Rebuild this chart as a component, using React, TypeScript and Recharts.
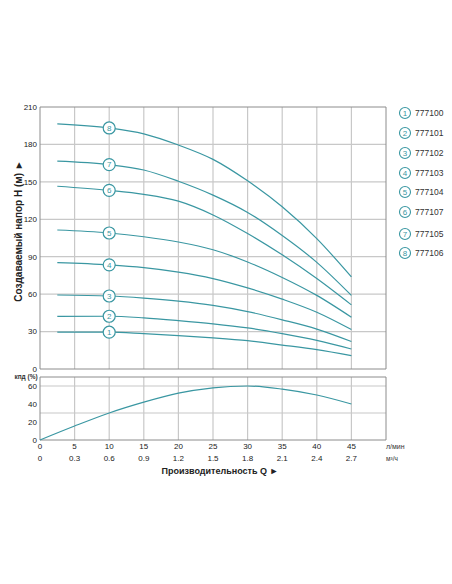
import { LineChart, Line, XAxis, YAxis, CartesianGrid, ReferenceArea } from 'recharts'

// Q, l/min
const FLOW_LPM = [2.5, 10, 15, 20, 25, 30, 35, 40, 45]
const FLOW_TICKS = [0, 5, 10, 15, 20, 25, 30, 35, 40, 45]
const M3H_TICKS = ['0', '0.3', '0.6', '0.9', '1.2', '1.5', '1.8', '2.1', '2.4', '2.7']
const HEAD_TICKS = [0, 30, 60, 90, 120, 150, 180, 210]
const EFF_TICKS = [0, 20, 40, 60]

// head H (m) per model
const HEAD_1 = [29.5, 29.5, 28.3, 26.8, 25, 22.7, 19.2, 15.5, 10.7]
const HEAD_2 = [42.2, 42.3, 41, 38.8, 36.2, 32.9, 28.3, 22.9, 16]
const HEAD_3 = [59.3, 58.5, 56.8, 54.4, 51, 46, 39.4, 32, 22]
const HEAD_4 = [85.3, 83.5, 81.3, 77.7, 72.5, 65, 56, 45.5, 31.6]
const HEAD_5 = [111.4, 109, 106, 101.8, 95.6, 85.8, 73.4, 59, 41.5]
const HEAD_6 = [146.5, 143.2, 140, 134.5, 123.5, 108.6, 91.5, 72.5, 51.4]
const HEAD_7 = [166.6, 163.8, 159.5, 150.5, 139.4, 125.5, 107, 85.5, 59]
const HEAD_8 = [196.5, 193.2, 188.5, 179.5, 168, 150.8, 130, 104.5, 73.8]

const MODELS = ['777100', '777101', '777102', '777103', '777104', '777107', '777105', '777106']
const HEADS = [HEAD_1, HEAD_2, HEAD_3, HEAD_4, HEAD_5, HEAD_6, HEAD_7, HEAD_8]

// efficiency, %
const EFF_FLOW = [0, 5, 10, 15, 20, 25, 30, 35, 40, 45]
const EFF = [0, 15.5, 30, 42, 52, 58, 60, 56.5, 50, 40]

const TEAL = '#3a97a2'
const GRID = '#c8c8c8'
const FRAME = '#8c8c8c'
const FONT = '"Liberation Sans", Arial, sans-serif'

const tick = { fontSize: 8, fill: '#222' }

function markerDot(num: number) {
  return (props: any) => {
    const { cx, cy, index } = props
    if (index !== 1) return <g key={`d-${num}-${index}`} />
    return (
      <g key={`d-${num}-${index}`}>
        <circle cx={cx} cy={cy} r={6} fill="#fff" stroke={TEAL} strokeWidth={1.2} />
        <text x={cx} y={cy + 0.3} textAnchor="middle" dominantBaseline="central" fontSize={8} fill={TEAL}>
          {num}
        </text>
      </g>
    )
  }
}

function HeadChart() {
  return (
    <LineChart width={452} height={380} margin={{ top: 107, right: 66, bottom: 11, left: 0 }}>
      <CartesianGrid
        stroke={GRID}
        strokeWidth={1.2}
        verticalValues={[5, 10, 15, 20, 25, 30, 35, 40, 45]}
        horizontalValues={[30, 60, 90, 120, 150, 180]}
      />
      <XAxis type="number" dataKey="q" domain={[0, 50]} ticks={FLOW_TICKS} hide />
      <YAxis
        type="number"
        domain={[0, 210]}
        ticks={HEAD_TICKS}
        width={40}
        axisLine={false}
        tickLine={false}
        tickSize={0}
        tickMargin={3}
        tick={tick}
        label={{
          content: () => (
            <text
              x={18}
              y={231}
              transform="rotate(-90 18 231)"
              textAnchor="middle"
              dominantBaseline="central"
              fontSize={10}
              fontWeight="bold"
              fill="#222"
            >
              Создаваемый напор H (м) ►
            </text>
          ),
        }}
      />
      <ReferenceArea x1={0} x2={50} y1={0} y2={210} fill="none" stroke={FRAME} strokeWidth={1} />
      {HEADS.map((h, i) => (
        <Line
          key={MODELS[i]}
          data={FLOW_LPM.map((q, j) => ({ q, h: h[j] }))}
          dataKey="h"
          type="monotone"
          stroke={TEAL}
          strokeWidth={1.2}
          dot={markerDot(i + 1)}
          activeDot={false}
          isAnimationActive={false}
        />
      ))}
    </LineChart>
  )
}

function EffChart() {
  const data = EFF_FLOW.map((q, i) => ({ q, e: EFF[i] }))
  return (
    <LineChart width={452} height={110} data={data} margin={{ top: 7, right: 66, bottom: 1, left: 0 }}>
      <CartesianGrid
        stroke={GRID}
        strokeWidth={1.2}
        verticalValues={[5, 10, 15, 20, 25, 30, 35, 40, 45]}
        horizontalValues={[10, 20, 30, 40, 50, 60]}
      />
      <XAxis
        type="number"
        dataKey="q"
        domain={[0, 50]}
        ticks={FLOW_TICKS}
        height={14}
        axisLine={false}
        tickLine={false}
        tickSize={0}
        tickMargin={3}
        tick={tick}
        interval={0}
        label={{
          content: () => (
            <text x={386} y={76} dominantBaseline="central" fontSize={7} fill="#333">
              л/мин
            </text>
          ),
        }}
      />
      <XAxis
        xAxisId="m3"
        type="number"
        dataKey="q"
        domain={[0, 50]}
        ticks={FLOW_TICKS}
        tickFormatter={(_v: number, i: number) => M3H_TICKS[i]}
        height={25}
        axisLine={false}
        tickLine={false}
        tickSize={0}
        tickMargin={1}
        tick={tick}
        interval={0}
        label={{
          content: () => (
            <g>
              <text x={386} y={88} dominantBaseline="central" fontSize={6.5} fill="#333">
                м³/ч
              </text>
              <text x={220} y={101} textAnchor="middle" dominantBaseline="central" fontSize={9} fontWeight="bold" fill="#222">
                Производительность Q ►
              </text>
            </g>
          ),
        }}
      />
      <YAxis
        type="number"
        domain={[0, 70]}
        ticks={EFF_TICKS}
        width={40}
        axisLine={false}
        tickLine={false}
        tickSize={0}
        tickMargin={3}
        tick={tick}
        label={{
          content: () => (
            <text x={26} y={6} textAnchor="middle" dominantBaseline="central" fontSize={6.5} fontWeight="bold" fill="#333">
              кпд (%)
            </text>
          ),
        }}
      />
      <ReferenceArea x1={0} x2={50} y1={0} y2={70} fill="none" stroke={FRAME} strokeWidth={1} />
      <Line
        dataKey="e"
        type="monotone"
        stroke={TEAL}
        strokeWidth={1.2}
        dot={false}
        activeDot={false}
        isAnimationActive={false}
      />
    </LineChart>
  )
}

function ModelLegend() {
  const rows = [113, 133, 153, 173, 192, 212, 234, 253]
  return (
    <svg width={62} height={170} style={{ position: 'absolute', left: 390, top: 100 }}>
      {MODELS.map((m, i) => (
        <g key={m}>
          <circle cx={15} cy={rows[i] - 100} r={5.5} fill="#fff" stroke={TEAL} strokeWidth={1.1} />
          <text x={15} y={rows[i] - 100 + 0.3} textAnchor="middle" dominantBaseline="central" fontSize={8} fill={TEAL}>
            {i + 1}
          </text>
          <text x={25} y={rows[i] - 100} dominantBaseline="central" fontSize={8.5} fill="#333">
            {m}
          </text>
        </g>
      ))}
    </svg>
  )
}

export default function App() {
  return (
    <div
      style={{
        position: 'absolute',
        left: 0,
        top: 0,
        width: 452,
        height: 584,
        background: '#fff',
        fontFamily: FONT,
      }}
    >
      <div style={{ position: 'absolute', left: 0, top: 0 }}>
        <HeadChart />
      </div>
      <div style={{ position: 'absolute', left: 0, top: 370 }}>
        <EffChart />
      </div>
      <ModelLegend />
    </div>
  )
}
